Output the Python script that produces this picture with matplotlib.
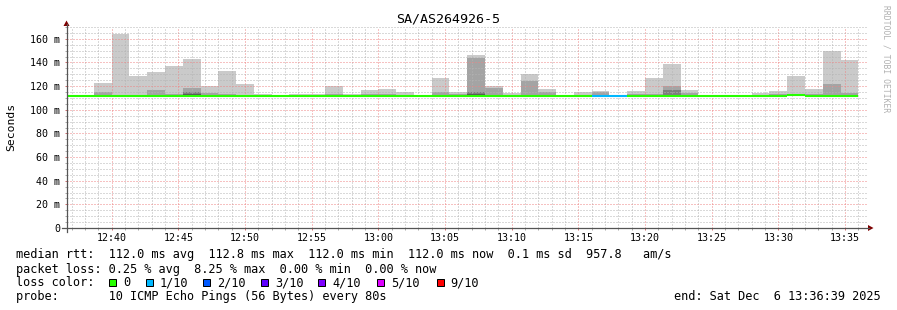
import matplotlib
matplotlib.use("Agg")
import matplotlib.pyplot as plt
from matplotlib.patches import Polygon, Rectangle
from matplotlib.lines import Line2D
from matplotlib.ticker import FixedLocator
import pandas as pd

# ---------------- data ----------------
title = "SA/AS264926-5"
y_label = "Seconds"
watermark = "RRDTOOL / TOBI OETIKER"
window_start = pd.Timestamp("2025-12-06 12:36:39")
window_end = pd.Timestamp("2025-12-06 13:36:39")
first_bar_start = pd.Timestamp("2025-12-06 12:36:00")
step_seconds = 80

median_ms = [112.0] * 41 + [112.8] + [112.0] * 3
loss_index = [0] * 30 + [1, 1] + [0] * 13

ping_p10 = [112.6, 112.8, 122.7, 164.5, 128.7, 132.0, 137.0, 143.0, 120.0, 132.9,
            121.9, 113.7, 112.4, 113.7, 113.7, 120.2, 113.7, 117.0, 117.5, 115.4,
            112.4, 127.0, 115.2, 146.5, 120.3, 114.3, 130.4, 117.8, 112.4, 115.1,
            116.2, 112.0, 116.2, 127.0, 139.0, 117.0, 112.3, 112.3, 112.3, 114.5,
            116.2, 128.8, 117.9, 150.0, 142.2]
ping_p9 = [112.3, 112.3, 115.0, 112.8, 112.6, 117.0, 113.0, 118.7, 114.5, 113.5,
           112.6, 112.5, 112.2, 112.5, 112.5, 113.0, 112.5, 113.0, 113.0, 112.5,
           112.2, 115.4, 113.0, 143.9, 118.8, 112.5, 124.5, 115.0, 112.2, 112.5,
           115.0, 112.0, 113.0, 113.5, 120.5, 114.5, 112.2, 112.2, 112.2, 112.5,
           113.0, 113.5, 113.5, 122.2, 114.6]
ping_p8 = [112.2] * 7 + [115.0] + [112.2] * 15 + [115.0] + [112.2] * 10 + [116.8] + [112.2] * 10
ping_p7 = [112.0] * 7 + [113.0] + [112.0] * 15 + [113.5] + [112.0] * 21
ping_floor_ms = 111.8

y_ticks = [0, 20, 40, 60, 80, 100, 120, 140, 160]
y_tick_labels = ["0", "20 m", "40 m", "60 m", "80 m", "100 m", "120 m", "140 m", "160 m"]
x_tick_labels = ["12:40", "12:45", "12:50", "12:55", "13:00", "13:05",
                 "13:10", "13:15", "13:20", "13:25", "13:30", "13:35"]

loss_labels = ["0", "1/10", "2/10", "3/10", "4/10", "5/10", "9/10"]
loss_colors = ["#26ff00", "#00b8ff", "#0059ff", "#5e00ff", "#7e00ff", "#dd00ff", "#ff0000"]
smoke_colors = ["#cacaca", "#a4a4a4", "#7e7e7e", "#585858"]

stats_lines = [
    "median rtt:  112.0 ms avg  112.8 ms max  112.0 ms min  112.0 ms now  0.1 ms sd  957.8   am/s",
    "packet loss: 0.25 % avg  8.25 % max  0.00 % min  0.00 % now",
]
loss_title = "loss color:"
probe_line = "probe:       10 ICMP Echo Pings (56 Bytes) every 80s"
end_line = "end: Sat Dec  6 13:36:39 2025"

# ---------------- layout ----------------
W, H, DPI = 897, 310, 100
FONT = "DejaVu Sans Mono"
plt.rcParams["font.family"] = [FONT, "DejaVu Sans"]

fig = plt.figure(figsize=(W / DPI, H / DPI), dpi=DPI)
fig.patch.set_facecolor("white")


def fx(x):
    return x / W


def fy(y):
    return 1 - y / H


ax_l, ax_r, ax_t, ax_b = 67, 867, 27, 228
ax = fig.add_axes([fx(ax_l), fy(ax_b), (ax_r - ax_l) / W, (ax_b - ax_t) / H])
ax.set_facecolor("white")
total = (window_end - window_start).total_seconds()
ax.set_xlim(0, total)
ax.set_ylim(0, 170)
for s in ax.spines.values():
    s.set_visible(False)

n = len(median_ms)
bar_start = [(first_bar_start - window_start).total_seconds() + step_seconds * k for k in range(n)]

# smoke layers
for layer, color in zip([ping_p10, ping_p9, ping_p8, ping_p7], smoke_colors):
    heights = [max(v - ping_floor_ms, 0) for v in layer]
    ax.bar(bar_start, heights, width=step_seconds, bottom=ping_floor_ms, align="edge",
           color=color, linewidth=0, zorder=1)

# median line colored by loss
ax.hlines(median_ms, bar_start, [b + step_seconds for b in bar_start],
          colors=[loss_colors[i] for i in loss_index], linewidth=1.5, zorder=4)

# ticks / grid
x_major = [(pd.Timestamp("2025-12-06 " + t) - window_start).total_seconds() for t in x_tick_labels]
first_min = window_start.ceil("min")
x_minor = []
t = first_min
while t <= window_end:
    x_minor.append((t - window_start).total_seconds())
    t += pd.Timedelta(minutes=1)
ax.xaxis.set_major_locator(FixedLocator(x_major))
ax.xaxis.set_minor_locator(FixedLocator(x_minor))
ax.set_xticks(x_major)
ax.set_xticklabels(x_tick_labels)
ax.yaxis.set_major_locator(FixedLocator(y_ticks))
ax.yaxis.set_minor_locator(FixedLocator(list(range(0, 171, 5))))
ax.set_yticks(y_ticks)
ax.set_yticklabels(y_tick_labels)

ax.grid(which="minor", color="#b4b4b4", linewidth=0.72, linestyle=(0, (1, 2)), zorder=2.5)
ax.grid(which="major", color="#ee8484", linewidth=0.72, linestyle=(0, (1, 2)), zorder=2.6)
ax.set_axisbelow(False)

ax.tick_params(axis="both", which="minor", length=1.5, width=0.72, color="#aaaaaa", direction="out")
ax.tick_params(axis="both", which="major", length=1.5, width=0.72, color="#d07070", direction="out",
               labelsize=7.2, labelcolor="black")
ax.tick_params(axis="y", which="major", pad=3.3)
ax.tick_params(axis="x", which="major", pad=2.2)
for lab in ax.get_xticklabels() + ax.get_yticklabels():
    lab.set_family(FONT)

# axes lines + arrows
axis_col = "#555555"
arrow_col = "#7f0000"
fig.add_artist(Line2D([fx(66.5), fx(66.5)], [fy(232), fy(24)], color=axis_col, linewidth=0.9,
                      transform=fig.transFigure))
fig.add_artist(Line2D([fx(62), fx(869)], [fy(228), fy(228)], color=axis_col, linewidth=0.9,
                      transform=fig.transFigure))
fig.add_artist(Polygon([[fx(63.5), fy(26)], [fx(69.5), fy(26)], [fx(66.5), fy(20.5)]],
                       closed=True, color=arrow_col, transform=fig.transFigure, linewidth=0))
fig.add_artist(Polygon([[fx(868), fy(225)], [fx(868), fy(231)], [fx(873.5), fy(228)]],
                       closed=True, color=arrow_col, transform=fig.transFigure, linewidth=0))

# texts
fig.text(fx(448), fy(19.5), title, ha="center", va="center", fontsize=9.6, family=FONT)
fig.text(fx(11), fy(127), y_label, ha="center", va="center", rotation=90, fontsize=8.2, family=FONT)
fig.text(fx(886), fy(5), watermark, ha="center", va="top", rotation=270, fontsize=5.8,
         family=FONT, color="#b0b0b0")

LEG_FS = 8.55
fig.text(fx(16), fy(258), stats_lines[0], ha="left", va="baseline", fontsize=LEG_FS, family=FONT)
fig.text(fx(16), fy(272.5), stats_lines[1], ha="left", va="baseline", fontsize=LEG_FS, family=FONT)
fig.text(fx(16), fy(286), loss_title, ha="left", va="baseline", fontsize=LEG_FS, family=FONT)
square_x = [109, 145.7, 202.7, 261, 318.3, 376.7, 436.7]
for sx, lab, col in zip(square_x, loss_labels, loss_colors):
    fig.add_artist(Rectangle((fx(sx), fy(286)), 7 / W, 7 / H, transform=fig.transFigure,
                             facecolor=col, edgecolor="black", linewidth=0.72))
    fig.text(fx(sx + 14), fy(286), lab, ha="left", va="baseline", fontsize=LEG_FS, family=FONT)
fig.text(fx(16), fy(300), probe_line, ha="left", va="baseline", fontsize=LEG_FS, family=FONT)
fig.text(fx(881), fy(300), end_line, ha="right", va="baseline", fontsize=LEG_FS, family=FONT)

fig.savefig("out.png", dpi=DPI, facecolor="white")
